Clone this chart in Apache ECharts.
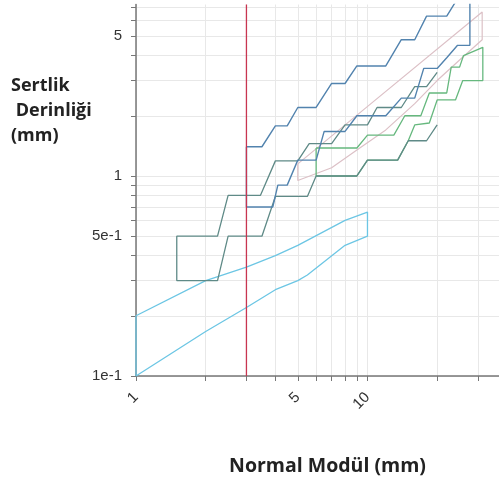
<!DOCTYPE html>
<html><head><meta charset="utf-8">
<script src="https://cdn.jsdelivr.net/npm/echarts@6/dist/echarts.min.js"></script>
<style>html,body{margin:0;padding:0;background:#fff}#c{width:499px;height:481px}</style>
</head><body><div id="c"></div>
<script>
// axis ticks / labels
const xTickValues = [1, 2, 3, 4, 5, 6, 7, 8, 9, 10, 20, 30];
const xLabelValues = [1, 5, 10];
const yTickValues = [0.1, 0.2, 0.3, 0.4, 0.5, 0.6, 0.7, 0.8, 0.9, 1, 2, 3, 4, 5, 6, 7];
const yLabelValues = [0.1, 0.5, 1, 5];
const yLabelTexts = ['1e-1', '5e-1', '1', '5'];

// reference line (normal module)
const redLineX = [3, 3];
const redLineY = [0.1, 7.2];

// cyan band
const cyanUpperX = [1, 2, 3, 4, 5, 8, 10];
const cyanUpperY = [0.2, 0.30, 0.35, 0.40, 0.45, 0.60, 0.66];
const cyanLowerX = [1, 2, 3, 4, 5, 5.5, 8, 10];
const cyanLowerY = [0.1, 0.167, 0.22, 0.27, 0.30, 0.32, 0.45, 0.50];

// dark teal band
const tealUpperX = [1.5, 2.25, 2.5, 3.45, 4, 5, 5.6, 7, 8, 10, 11, 14, 16, 18, 20];
const tealUpperY = [0.5, 0.5, 0.8, 0.8, 1.19, 1.19, 1.45, 1.45, 1.8, 1.8, 2.2, 2.2, 2.8, 2.8, 3.3];
const tealLowerX = [1.5, 2.25, 2.5, 3.5, 4, 5.5, 6, 9, 10, 13.5, 15, 18, 20];
const tealLowerY = [0.3, 0.3, 0.5, 0.5, 0.79, 0.79, 1.0, 1.0, 1.2, 1.2, 1.5, 1.5, 1.8];

// steel blue band
const blueUpperX = [3, 3.5, 4, 4.5, 5, 6, 7, 8, 9, 12, 14, 16, 18, 22, 25];
const blueUpperY = [1.4, 1.4, 1.78, 1.78, 2.2, 2.2, 2.9, 2.9, 3.55, 3.55, 4.8, 4.8, 6.3, 6.3, 8];
const blueLowerX = [3, 3.9, 4.1, 4.5, 5, 6, 6.5, 8, 9, 12, 14, 16, 17.5, 20, 22, 24.5, 27.7, 27.7];
const blueLowerY = [0.7, 0.7, 0.9, 0.9, 1.2, 1.2, 1.67, 1.67, 2.0, 2.0, 2.45, 2.45, 3.45, 3.45, 3.9, 4.5, 4.5, 8];

// green band
const greenUpperX = [6, 9, 10, 13, 14.5, 17, 18.5, 22, 23, 25, 26, 31.5];
const greenUpperY = [1.38, 1.38, 1.6, 1.6, 2.0, 2.0, 2.6, 2.6, 3.5, 3.5, 4.0, 4.4];
const greenLowerX = [6, 9, 10, 13.5, 15, 16, 18.5, 20, 24, 25.8, 31.5];
const greenLowerY = [1.0, 1.0, 1.2, 1.2, 1.5, 1.8, 1.84, 2.4, 2.4, 3.0, 3.0];

// light rose band
const roseUpperX = [5, 9.6, 31.3];
const roseUpperY = [1.15, 2.14, 6.6];
const roseLowerX = [5, 7, 9, 12, 16, 20, 25, 31.3];
const roseLowerY = [0.95, 1.1, 1.35, 1.7, 2.3, 3.0, 3.8, 4.8];

function zip(xs, ys) { return xs.map((x, i) => [x, ys[i]]); }
function band(ux, uy, lx, ly) {
  const up = zip(ux, uy), lo = zip(lx, ly).reverse();
  return up.concat(lo, [up[0]]);
}
function openBand(ux, uy, lx, ly) {
  return zip(lx, ly).reverse().concat(zip(ux, uy));
}
function lineSeries(data, color, width) {
  return { type: 'line', data: data, symbol: 'none', clip: true, silent: true,
    lineStyle: { color: color, width: width || 1.2 } };
}

const chart = echarts.init(document.getElementById('c'), null, { renderer: 'canvas' });
chart.setOption({
  animation: false,
  backgroundColor: '#ffffff',
  title: {
    text: 'Sertlik\n Derinliği\n(mm)', left: 6, top: 68,
    textStyle: { fontFamily: 'Open Sans', fontWeight: 'bold', fontSize: 18, lineHeight: 25, color: '#222' }
  },
  grid: { left: 136, right: 0, top: 4.5, bottom: 105, containLabel: false, outerBoundsMode: 'none' },
  xAxis: {
    type: 'log', min: 1, max: 37, logBase: 10,
    name: 'Normal Modül (mm)', nameLocation: 'middle', nameGap: 80,
    nameTextStyle: { fontFamily: 'Open Sans', fontWeight: 'bold', fontSize: 19.5, color: '#222', padding: [0, 0, 0, 20] },
    axisLine: { show: true, lineStyle: { color: '#777', width: 1.5 } },
    axisTick: { show: true, customValues: xTickValues, length: 5, lineStyle: { color: '#777' } },
    axisLabel: { customValues: xLabelValues, rotate: 45, margin: 19, fontFamily: 'Liberation Sans', fontSize: 15, color: '#333',
      formatter: v => String(Math.round(v)) },
    splitLine: { show: true, lineStyle: { color: '#e8e8e8', width: 1 } }
  },
  yAxis: {
    type: 'log', min: 0.1, max: 7.2, logBase: 10,
    axisLine: { show: true, lineStyle: { color: '#777', width: 1.5 } },
    axisTick: { show: true, customValues: yTickValues, length: 5, lineStyle: { color: '#777' } },
    axisLabel: { customValues: yLabelValues, margin: 14, fontFamily: 'Liberation Sans', fontSize: 15, color: '#333',
      formatter: v => {
        let best = 0;
        yLabelValues.forEach((lv, i) => { if (Math.abs(Math.log(lv) - Math.log(v)) < Math.abs(Math.log(yLabelValues[best]) - Math.log(v))) best = i; });
        return yLabelTexts[best];
      } },
    splitLine: { show: true, lineStyle: { color: '#e8e8e8', width: 1 } }
  },
  series: [
    lineSeries(band(cyanUpperX, cyanUpperY, cyanLowerX, cyanLowerY), '#6cc6e4', 1.3),
    lineSeries(band(roseUpperX, roseUpperY, roseLowerX, roseLowerY), '#dcc0c6', 1.2),
    lineSeries(band(greenUpperX, greenUpperY, greenLowerX, greenLowerY), '#66b87e', 1.3),
    lineSeries(openBand(tealUpperX, tealUpperY, tealLowerX, tealLowerY), '#5f8a87', 1.3),
    lineSeries(band(blueUpperX, blueUpperY, blueLowerX, blueLowerY), '#5283ae', 1.4),
    lineSeries(zip(redLineX, redLineY), '#c83550', 1.3)
  ]
});
</script>
</body></html>
